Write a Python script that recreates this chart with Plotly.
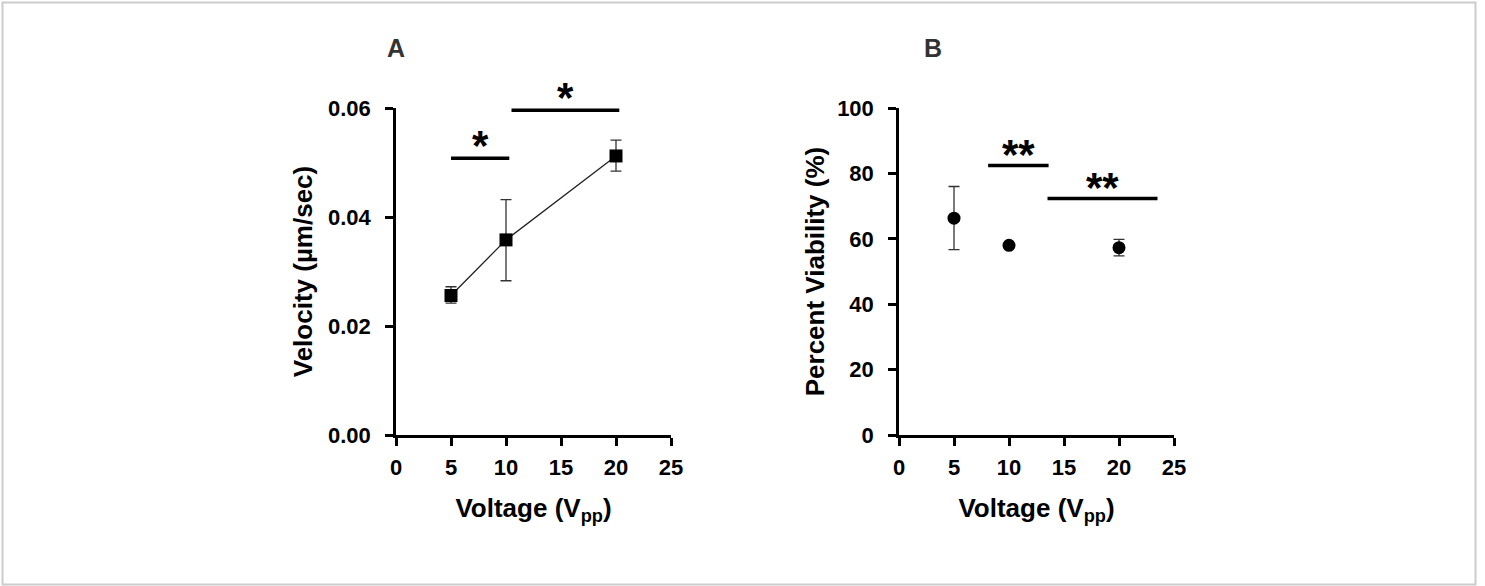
import plotly.graph_objects as go

W, H = 1485, 586

# Panel A data
voltage_a = [5, 10, 20]
velocity = [0.0256, 0.0358, 0.0512]
velocity_err_plus = [0.0016, 0.0074, 0.0029]
velocity_err_minus = [0.0014, 0.0075, 0.0028]

# Panel B data
voltage_b = [5, 10, 20]
viability = [66.3, 58.0, 57.3]
viability_err_plus = [9.7, 0.0, 2.5]
viability_err_minus = [9.6, 0.0, 2.5]

# significance brackets: (x0, x1, y, label)
sig_a = [(5.0, 10.3, 0.0508, "*"), (10.5, 20.3, 0.0596, "*")]
sig_b = [(8.1, 13.6, 82.4, "**"), (13.5, 23.5, 72.3, "**")]

x_ticks = [0, 5, 10, 15, 20, 25]
ya_ticks = [0, 0.02, 0.04, 0.06]
ya_ticktext = ["0.00", "0.02", "0.04", "0.06"]
yb_ticks = [0, 20, 40, 60, 80, 100]

FONT = "Arial"
BLACK = "#000000"

def px_x(p):
    return p / W

def px_y(p):
    return 1 - p / H

fig = go.Figure()

fig.add_trace(go.Scatter(
    x=voltage_a, y=velocity, mode="lines+markers",
    line=dict(color="#222222", width=1.3),
    marker=dict(symbol="square", size=13, color=BLACK),
    error_y=dict(type="data", symmetric=False, array=velocity_err_plus,
                 arrayminus=velocity_err_minus, color="#333333", thickness=1.3, width=5.5),
    xaxis="x", yaxis="y", showlegend=False))

fig.add_trace(go.Scatter(
    x=voltage_b, y=viability, mode="markers",
    marker=dict(symbol="circle", size=13, color=BLACK),
    error_y=dict(type="data", symmetric=False, array=viability_err_plus,
                 arrayminus=viability_err_minus, color="#333333", thickness=1.3, width=5.5),
    xaxis="x2", yaxis="y2", showlegend=False))

axis_common = dict(
    automargin=False,
    showgrid=False, zeroline=False, showline=True, linecolor=BLACK, linewidth=2.5,
    ticks="outside", ticklen=8, tickwidth=2.5, tickcolor=BLACK,
    tickfont=dict(family=FONT, size=22, color=BLACK, weight=700),
    title_font=dict(family=FONT, size=26, color=BLACK, weight=700),
)
x_common = dict(ticklabelstandoff=3, **axis_common)
y_common = dict(ticklabelstandoff=10, **axis_common)

ydom = [px_y(435), px_y(108)]
fig.update_layout(
    width=W, height=H, margin=dict(l=0, r=0, t=0, b=0, autoexpand=False),
    paper_bgcolor="white", plot_bgcolor="white",
    xaxis=dict(domain=[px_x(396), px_x(671)], range=[0, 25], tickvals=x_ticks,
               anchor="y", title=dict(text="Voltage (V<sub>pp</sub>)", standoff=20),
               **x_common),
    yaxis=dict(domain=ydom, range=[0, 0.06], tickvals=ya_ticks, ticktext=ya_ticktext,
               anchor="x", title=dict(text="Velocity (µm/sec)", standoff=8),
               **y_common),
    xaxis2=dict(domain=[px_x(899), px_x(1174)], range=[0, 25], tickvals=x_ticks,
                anchor="y2", title=dict(text="Voltage (V<sub>pp</sub>)", standoff=20),
                **x_common),
    yaxis2=dict(domain=ydom, range=[0, 100], tickvals=yb_ticks,
                anchor="x2", title=dict(text="Percent Viability (%)", standoff=6),
                **y_common),
)

shapes = []
annotations = []
star_font = dict(family=FONT, size=42, color=BLACK, weight=700)
for (x0, x1, y, lab) in sig_a:
    shapes.append(dict(type="line", xref="x", yref="y", x0=x0, x1=x1, y0=y, y1=y,
                       line=dict(color=BLACK, width=3.5)))
    annotations.append(dict(xref="x", yref="y", x=(x0 + x1) / 2, y=y, text=lab,
                            showarrow=False, yanchor="bottom", yshift=-13, font=star_font))
for (x0, x1, y, lab) in sig_b:
    shapes.append(dict(type="line", xref="x2", yref="y2", x0=x0, x1=x1, y0=y, y1=y,
                       line=dict(color=BLACK, width=3.5)))
    annotations.append(dict(xref="x2", yref="y2", x=(x0 + x1) / 2, y=y, text=lab,
                            showarrow=False, yanchor="bottom", yshift=-14, font=star_font))

# panel letters
letter_font = dict(family=FONT, size=25, color="#333333", weight=700)
annotations.append(dict(xref="paper", yref="paper", x=px_x(396), y=px_y(48), text="A",
                        showarrow=False, xanchor="center", yanchor="middle", font=letter_font))
annotations.append(dict(xref="paper", yref="paper", x=px_x(933), y=px_y(48), text="B",
                        showarrow=False, xanchor="center", yanchor="middle", font=letter_font))

# outer border
shapes.append(dict(type="rect", xref="paper", yref="paper",
                   x0=px_x(2.5), x1=px_x(1475.5), y0=px_y(584.5), y1=px_y(2.5),
                   line=dict(color="#cccccc", width=2), layer="above"))

fig.update_layout(shapes=shapes, annotations=annotations)
fig.write_html(
    "out.html",
    config={"displayModeBar": False},
    post_script=(
        "document.documentElement.style.cssText='margin:0;padding:0;overflow:hidden';"
        "document.body.style.cssText='margin:0;padding:0;overflow:hidden';"
    ),
)
